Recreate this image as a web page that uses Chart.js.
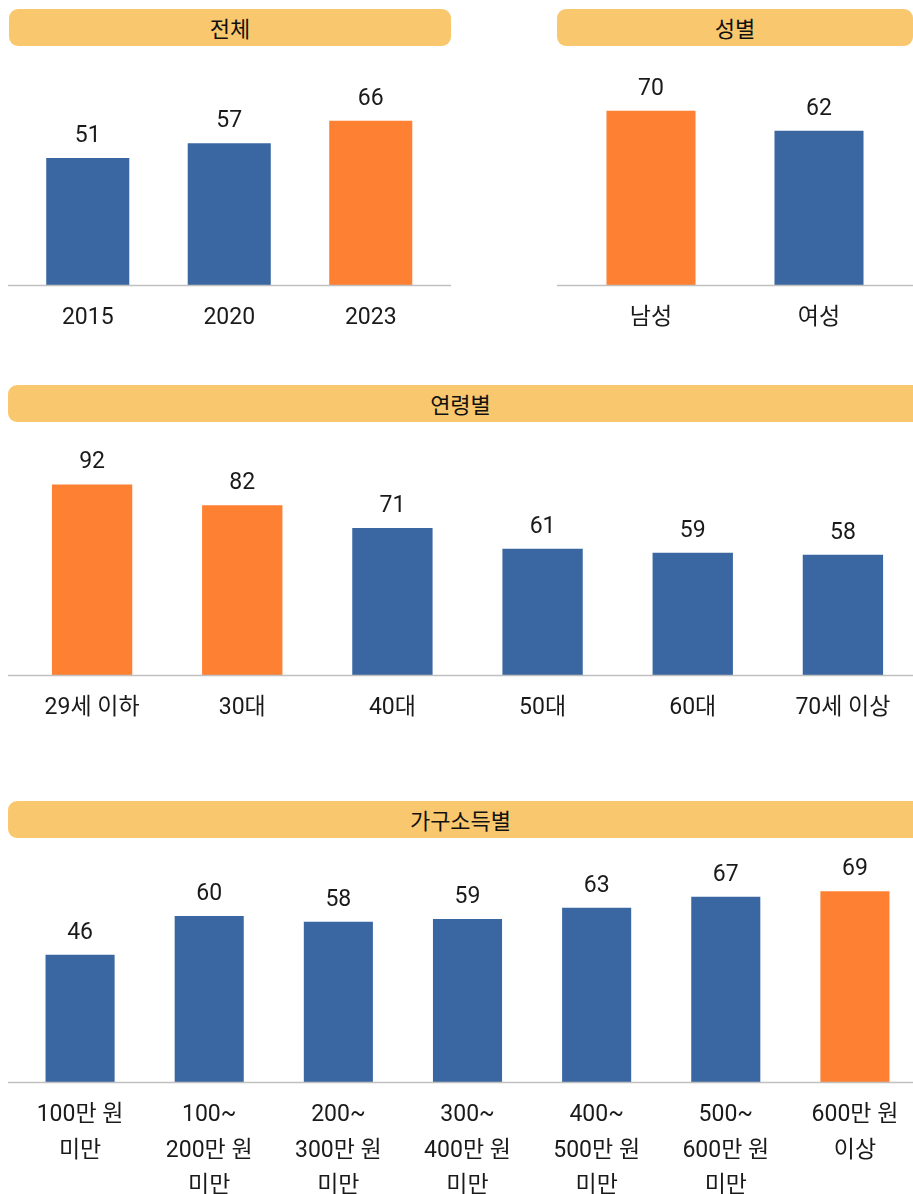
<!DOCTYPE html>
<html lang="ko">
<head>
<meta charset="utf-8">
<script src="https://cdn.jsdelivr.net/npm/chart.js@4.4.0/dist/chart.umd.min.js"></script>
<style>
  html, body { margin: 0; padding: 0; width: 913px; height: 1194px; overflow: hidden; background: #fff; }
  body { position: relative; font-family: Roboto, "Noto Sans CJK KR", sans-serif; }
  .head { position: absolute; height: 37px; background: #F9C86E; border-radius: 9px;
          font-family: "Noto Sans CJK KR", sans-serif; font-size: 22px; color: #111;
          line-height: 37px; text-align: center; }
  .box { position: absolute; }
</style>
</head>
<body>

<div class="head" style="left:9px;top:9px;width:442px;">전체</div>
<div class="head" style="left:557px;top:9px;width:356px;">성별</div>
<div class="head" style="left:8px;top:385px;width:905px;border-radius:9px 0 0 9px;">연령별</div>
<div class="head" style="left:8px;top:801px;width:905px;border-radius:9px 0 0 9px;">가구소득별</div>

<div class="box" style="left:8px;top:50px;width:443px;height:295px;"><canvas id="c1"></canvas></div>
<div class="box" style="left:557px;top:50px;width:356px;height:295px;"><canvas id="c2"></canvas></div>
<div class="box" style="left:8px;top:430px;width:912px;height:305px;"><canvas id="c3"></canvas></div>
<div class="box" style="left:8px;top:842px;width:914px;height:355px;"><canvas id="c4"></canvas></div>

<script>
// 데이터
const yearLabels = ["2015", "2020", "2023"];
const yearValues = [51, 57, 66];

const genderLabels = ["남성", "여성"];
const genderValues = [70, 62];

const ageLabels = ["29세 이하", "30대", "40대", "50대", "60대", "70세 이상"];
const ageValues = [92, 82, 71, 61, 59, 58];

const incomeLabels = [
  ["100만 원", "미만"],
  ["100~", "200만 원", "미만"],
  ["200~", "300만 원", "미만"],
  ["300~", "400만 원", "미만"],
  ["400~", "500만 원", "미만"],
  ["500~", "600만 원", "미만"],
  ["600만 원", "이상"]
];
const incomeValues = [46, 60, 58, 59, 63, 67, 69];

// 강조(주황) 표시
const yearHighlight = [false, false, true];
const genderHighlight = [true, false];
const ageHighlight = [true, true, false, false, false, false];
const incomeHighlight = [false, false, false, false, false, false, true];

const BLUE = "#3A67A1";
const ORANGE = "#FE8033";
const FONT = "Roboto, 'Noto Sans CJK KR', sans-serif";

// 막대 위 값 + 기준선
const valueLabels = {
  id: "valueLabels",
  afterDatasetsDraw(chart) {
    const ctx = chart.ctx;
    const area = chart.chartArea;
    ctx.save();
    ctx.strokeStyle = "#c0c0c0";
    ctx.lineWidth = 1.5;
    ctx.beginPath();
    ctx.moveTo(0, area.bottom + 0.5);
    ctx.lineTo(chart.width, area.bottom + 0.5);
    ctx.stroke();

    ctx.fillStyle = "#1a1a1a";
    ctx.font = "23px " + FONT;
    ctx.textAlign = "center";
    ctx.textBaseline = "alphabetic";
    const meta = chart.getDatasetMeta(0);
    const data = chart.data.datasets[0].data;
    meta.data.forEach(function (bar, i) {
      ctx.fillText(String(data[i]), bar.x, bar.y - 16);
    });
    ctx.restore();
  }
};

function makeChart(id, labels, values, highlight, yMax, pad, xHeight, barPct) {
  const colors = highlight.map(function (h) { return h ? ORANGE : BLUE; });
  return new Chart(document.getElementById(id), {
    type: "bar",
    data: {
      labels: labels,
      datasets: [{
        data: values,
        backgroundColor: colors,
        borderWidth: 0,
        barPercentage: barPct,
        categoryPercentage: 1
      }]
    },
    options: {
      responsive: true,
      maintainAspectRatio: false,
      animation: false,
      events: [],
      layout: { padding: pad },
      plugins: { legend: { display: false }, tooltip: { enabled: false } },
      scales: {
        x: {
          grid: { display: false, drawTicks: false },
          border: { display: false },
          ticks: {
            color: "#1a1a1a",
            font: { family: FONT, size: 23, lineHeight: 1.56 },
            padding: 15,
            autoSkip: false,
            maxRotation: 0
          },
          afterFit: function (scale) { scale.height = xHeight; }
        },
        y: {
          display: false,
          min: 0,
          max: yMax
        }
      }
    },
    plugins: [valueLabels]
  });
}

makeChart("c1", yearLabels, yearValues, yearHighlight, 90,
  { top: 11, left: 9, right: 9.5, bottom: 0 }, 60, 0.587);
makeChart("c2", genderLabels, genderValues, genderHighlight, 90,
  { top: 11, left: 10, right: 10, bottom: 0 }, 60, 0.53);
makeChart("c3", ageLabels, ageValues, ageHighlight, 112,
  { top: 13, left: 9, right: 2, bottom: 0 }, 60, 0.535);
makeChart("c4", incomeLabels, incomeValues, incomeHighlight, 85,
  { top: 5, left: 7.5, right: 2.5, bottom: 0 }, 115, 0.535);
</script>
</body>
</html>
